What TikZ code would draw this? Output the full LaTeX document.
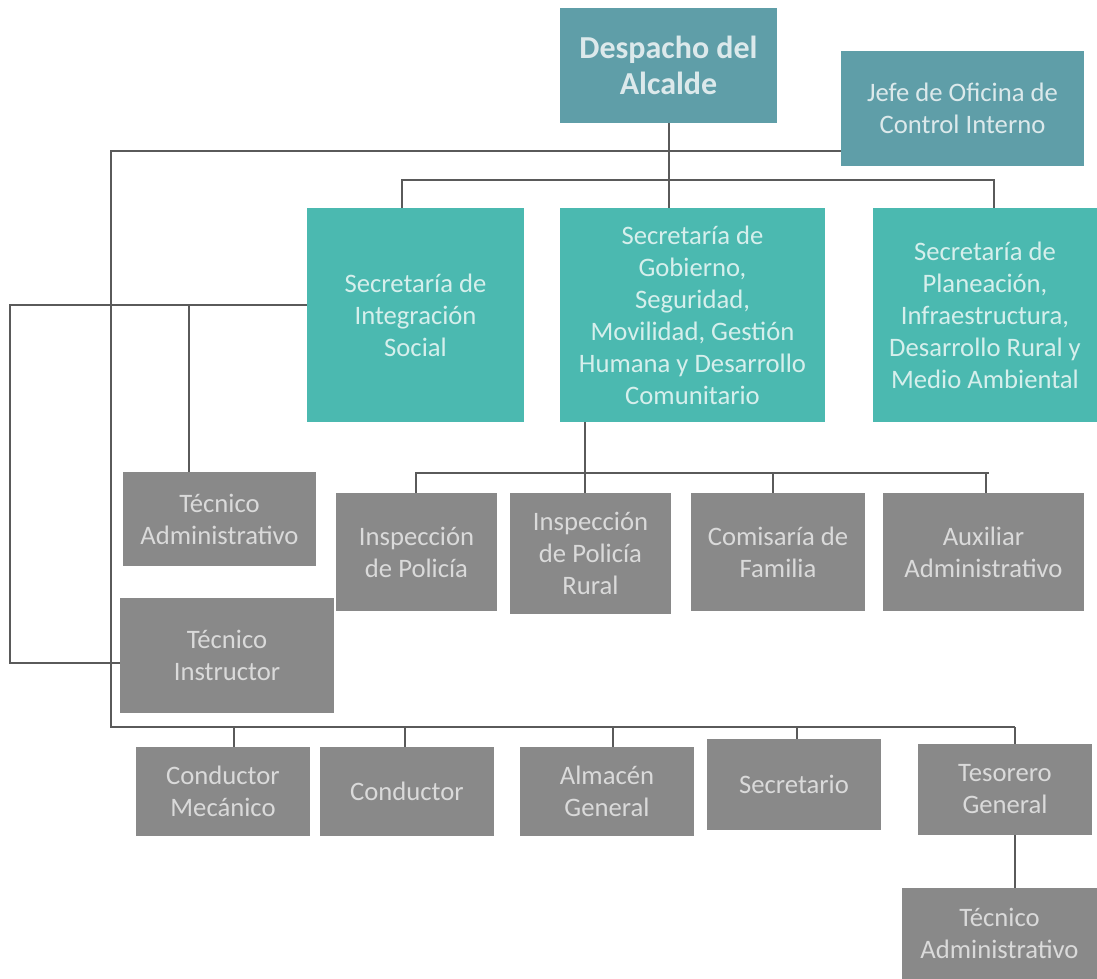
\documentclass[tikz,border=0pt]{standalone}
\usepackage{fontspec}
\setmainfont{Carlito}
\definecolor{topteal}{HTML}{5F9EA8}
\definecolor{secteal}{HTML}{4BB9B0}
\definecolor{boxgray}{HTML}{898989}
\definecolor{linegray}{HTML}{5A5A5A}
\definecolor{txtgray}{HTML}{DADADA}
\definecolor{txtteal}{HTML}{D6EFEC}
\definecolor{txttop}{HTML}{DCE9EB}
\tikzset{
  sz/.style n args={2}{minimum width=#1*0.75pt, minimum height=#2*0.75pt},
  base/.style={rectangle, inner sep=0pt, align=center, font=\fontsize{20}{24}\selectfont},
  topbox/.style={base, fill=topteal, text=txttop},
  secbox/.style={base, fill=secteal, text=txtteal},
  graybox/.style={base, fill=boxgray, text=txtgray},
  conn/.style={draw=linegray, line width=1.5pt}
}
\begin{document}
\begin{tikzpicture}[x=0.75pt, y=-0.75pt]
\useasboundingbox (0,0) rectangle (1097,979);

% top level
\node[topbox, sz={217}{115}, font=\fontsize{24}{27.5}\selectfont\bfseries] (desp) at (668.5,65.5) {Despacho del\\Alcalde};
\node[topbox, sz={243}{115}] (jefe) at (962.5,108.5) {Jefe de Oficina de\\Control Interno};

% secretarias
\node[secbox, sz={217}{214}] (integ) at (415.5,315) {Secretaría de\\Integración\\Social};
\node[secbox, sz={265}{214}] (gob) at (692.5,315) {Secretaría de\\Gobierno,\\Seguridad,\\Movilidad, Gestión\\Humana y Desarrollo\\Comunitario};
\node[secbox, sz={224}{214}] (plan) at (985,315) {Secretaría de\\Planeación,\\Infraestructura,\\Desarrollo Rural y\\Medio Ambiental};

% left column
\node[graybox, sz={193}{94}] (tecadm) at (219.5,519) {Técnico\\Administrativo};
\node[graybox, sz={214}{115}] (tecins) at (227,655.5) {Técnico\\Instructor};

% gobierno children
\node[graybox, sz={161}{118}] (insp) at (416.5,552) {Inspección\\de Policía};
\node[graybox, sz={161}{121}] (inspr) at (590.5,553.5) {Inspección\\de Policía\\Rural};
\node[graybox, sz={174}{118}] (comi) at (778,552) {Comisaría de\\Familia};
\node[graybox, sz={201}{118}] (aux) at (983.5,552) {Auxiliar\\Administrativo};

% bottom row
\node[graybox, sz={174}{89}] (condm) at (223,791.5) {Conductor\\Mecánico};
\node[graybox, sz={174}{89}] (cond) at (407,791.5) {Conductor};
\node[graybox, sz={174}{89}] (alm) at (607,791.5) {Almacén\\General};
\node[graybox, sz={174}{91}] (secr) at (794,784.5) {Secretario};
\node[graybox, sz={174}{91}] (teso) at (1005,789.5) {Tesorero\\General};
\node[graybox, sz={195}{91}] (tecadm2) at (999.5,933.5) {Técnico\\Administrativo};

% junction coordinates
\coordinate (ja) at (111,151);
\coordinate (jb) at (111,727);
\coordinate (jc) at (1015,727);
\coordinate (jd) at (402,180);
\coordinate (je) at (994,180);
\coordinate (jf) at (9.5,305);
\coordinate (jg) at (9.5,663);
\coordinate (jh) at (189,305);
\coordinate (ji) at (416,473);
\coordinate (jj) at (989,473);
\coordinate (jk) at (585,473);

% connectors
\draw[conn] (desp.south) -- (desp.south |- gob.north);
\draw[conn] (jefe.west |- ja) -- (ja) -- (jb) -- (jc);
\draw[conn] (jd |- integ.north) -- (jd) -- (je) -- (je |- plan.north);
\draw[conn] (integ.west |- jf) -- (jf) -- (jg) -- (tecins.west |- jg);
\draw[conn] (jh) -- (jh |- tecadm.north);
\draw[conn] (gob.south -| jk) -- (jk |- inspr.north);
\draw[conn] (ji |- insp.north) -- (ji) -- (jj);
\draw[conn] (comi.north -| 773,0) -- (773,473);
\draw[conn] (aux.north -| 986,0) -- (986,473);
\draw[conn] (condm.north -| 234,0) -- (234,727);
\draw[conn] (cond.north -| 405,0) -- (405,727);
\draw[conn] (alm.north -| 613,0) -- (613,727);
\draw[conn] (secr.north -| 797,0) -- (797,727);
\draw[conn] (teso.north -| jc) -- (jc);
\draw[conn] (teso.south -| jc) -- (jc |- tecadm2.north);
\end{tikzpicture}
\end{document}
